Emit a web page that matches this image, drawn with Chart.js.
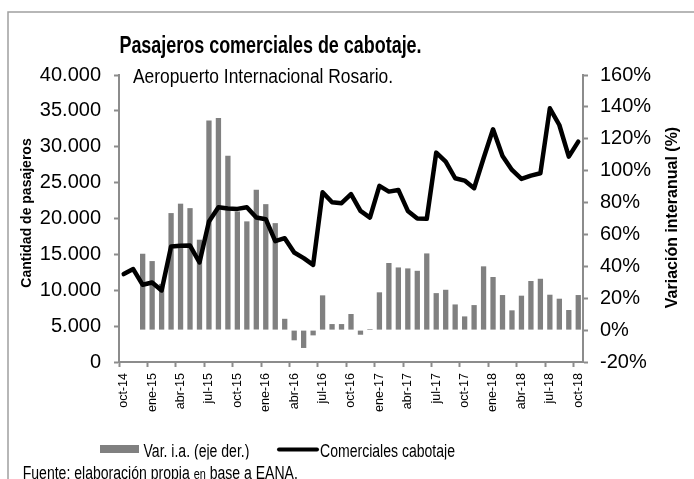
<!DOCTYPE html>
<html>
<head>
<meta charset="utf-8">
<script src="https://cdn.jsdelivr.net/npm/chart.js@4.4.1/dist/chart.umd.min.js"></script>
<style>
  body { margin: 0; background: #fff; }
  canvas { display: block; }
</style>
</head>
<body>
<canvas id="grafico" width="694" height="479"></canvas>
<script>
// meses oct-14 .. oct-18
const meses = ['oct-14', 'nov-14', 'dic-14',
    'ene-15', 'feb-15', 'mar-15', 'abr-15', 'may-15', 'jun-15', 'jul-15', 'ago-15', 'sep-15', 'oct-15', 'nov-15', 'dic-15',
    'ene-16', 'feb-16', 'mar-16', 'abr-16', 'may-16', 'jun-16', 'jul-16', 'ago-16', 'sep-16', 'oct-16', 'nov-16', 'dic-16',
    'ene-17', 'feb-17', 'mar-17', 'abr-17', 'may-17', 'jun-17', 'jul-17', 'ago-17', 'sep-17', 'oct-17', 'nov-17', 'dic-17',
    'ene-18', 'feb-18', 'mar-18', 'abr-18', 'may-18', 'jun-18', 'jul-18', 'ago-18', 'sep-18', 'oct-18'
];

// Comerciales cabotaje (eje izq.)
const pasajeros = [12250, 12950, 10760, 11080, 9970, 16090, 16190, 16230, 13870, 19570, 21580, 21380,
    21340, 21580, 20130, 19900, 16850, 17260, 15260, 14480, 13540, 23660, 22270, 22130,
    23390, 21060, 20130, 24540, 23750, 23980, 21060, 20000, 19950, 29180, 27920, 25610,
    25280, 24220, 28400, 32430, 28720, 26770, 25520, 25980, 26310, 35360, 33030, 28620, 30710
];

// Var. i.a. en % (eje der.)
const variacion = [null, null, 47.9, 43.3, 29, 73.4, 79.3, 76.5, 56.7, 131.5, 133, 109.3,
    74.4, 68.2, 88, 79, 67.1, 7.1, -6.4, -11.2, -3.3, 21.8, 3.8, 3.8,
    10.1, -2.9, 0.7, 23.7, 42.1, 39.3, 38.7, 37.2, 48.1, 23.2, 25.3, 16.1,
    8.6, 15.7, 40, 33.3, 22, 12.4, 21.6, 30.8, 32.2, 22.2, 19.7, 12.6, 22
];

const gris = '#8c8c8c';
const fuente = "'Liberation Sans', Arial, sans-serif";

Chart.defaults.font.family = fuente;
Chart.defaults.color = '#000';

function puntos(v) {
    return String(v).replace(/\B(?=(\d{3})+(?!\d))/g, '.');
}

// texto algo comprimido en horizontal, como en el original
function texto(ctx, s, x, y, font, sx, align) {
    ctx.save();
    ctx.translate(x, y);
    ctx.scale(sx, 1);
    ctx.font = font;
    ctx.textAlign = align;
    ctx.textBaseline = 'alphabetic';
    ctx.fillText(s, 0, 0);
    ctx.restore();
}

const extras = {
    id: 'extras',
    afterDraw(chart) {
        const ctx = chart.ctx;
        ctx.save();
        ctx.fillStyle = '#000';

        // titulos
        texto(ctx, 'Pasajeros comerciales de cabotaje.', 270.5, 53, 'bold 23px ' + fuente, 0.78, 'center');
        texto(ctx, 'Aeropuerto Internacional Rosario.', 263, 83, '20px ' + fuente, 0.87, 'center');

        // titulos de ejes
        ctx.save();
        ctx.translate(27, 213);
        ctx.rotate(-Math.PI / 2);
        ctx.font = 'bold 14px ' + fuente;
        ctx.textAlign = 'center';
        ctx.textBaseline = 'middle';
        ctx.fillText('Cantidad de pasajeros', 0, 0);
        ctx.restore();

        ctx.save();
        ctx.translate(673, 217.5);
        ctx.rotate(-Math.PI / 2);
        ctx.font = 'bold 16px ' + fuente;
        ctx.textAlign = 'center';
        ctx.textBaseline = 'middle';
        ctx.fillText('Variación interanual (%)', 0, 0);
        ctx.restore();

        // leyenda
        ctx.fillStyle = '#808080';
        ctx.fillRect(100, 445, 39, 8);
        ctx.fillStyle = '#000';
        texto(ctx, 'Var. i.a. (eje der.)', 143.5, 457, '18px ' + fuente, 0.78, 'left');
        ctx.strokeStyle = '#000';
        ctx.lineWidth = 4;
        ctx.lineCap = 'round';
        ctx.beginPath();
        ctx.moveTo(279, 449.5);
        ctx.lineTo(317, 449.5);
        ctx.stroke();
        texto(ctx, 'Comerciales cabotaje', 320, 457, '18px ' + fuente, 0.78, 'left');

        // caja de la fuente (tapa los descendentes de la leyenda)
        ctx.fillStyle = '#fff';
        ctx.fillRect(10, 459.5, 690, 30);
        ctx.fillStyle = '#000';
        let x = 22.7;
        const partes = [['Fuente: elaboración propia ', 18], ['en', 14], [' base a EANA.', 18]];
        partes.forEach(p => {
            ctx.font = p[1] + 'px ' + fuente;
            texto(ctx, p[0], x, 479, p[1] + 'px ' + fuente, 0.78, 'left');
            x += ctx.measureText(p[0]).width * 0.78;
        });

        // marco
        ctx.strokeStyle = '#a0a0a0';
        ctx.lineWidth = 1.5;
        ctx.strokeRect(8, 12, 720, 520);
        ctx.restore();
    }
};

new Chart(document.getElementById('grafico').getContext('2d'), {
    type: 'bar',
    data: {
        labels: meses,
        datasets: [{
                type: 'line',
                label: 'Comerciales cabotaje',
                data: pasajeros,
                yAxisID: 'y',
                borderColor: '#000',
                backgroundColor: '#000',
                borderWidth: 4.5,
                pointRadius: 0,
                tension: 0,
                borderJoinStyle: 'round',
                borderCapStyle: 'round',
                order: 0
            },
            {
                type: 'bar',
                label: 'Var. i.a. (eje der.)',
                data: variacion,
                yAxisID: 'y1',
                backgroundColor: '#808080',
                barPercentage: 0.56,
                categoryPercentage: 1,
                order: 1
            }
        ]
    },
    options: {
        responsive: false,
        animation: false,
        devicePixelRatio: 1,
        layout: { padding: { top: 75, left: 0, right: 0, bottom: 0 } },
        plugins: {
            legend: { display: false },
            title: { display: false },
            tooltip: { enabled: false }
        },
        scales: {
            x: {
                offset: true,
                afterFit: s => { s.height = 117; },
                border: { color: gris, width: 2 },
                grid: {
                    offset: true,
                    drawOnChartArea: false,
                    tickLength: 5,
                    tickWidth: 2,
                    color: c => (c.index % 3 === 0 ? gris : 'rgba(0,0,0,0)')
                },
                ticks: {
                    autoSkip: false,
                    minRotation: 90,
                    maxRotation: 90,
                    padding: 6,
                    font: { size: 12.5 },
                    callback: (v, i) => (i % 3 === 0 ? meses[i] : '')
                }
            },
            y: {
                position: 'left',
                min: 0,
                max: 40000,
                afterFit: s => { s.width = 119; },
                border: { color: gris, width: 2 },
                grid: { drawOnChartArea: false, tickLength: 5, tickWidth: 2, color: gris },
                ticks: {
                    stepSize: 5000,
                    padding: 13,
                    font: { size: 20 },
                    callback: v => puntos(v)
                }
            },
            y1: {
                position: 'right',
                min: -20,
                max: 160,
                afterFit: s => { s.width = 111; },
                border: { color: gris, width: 2 },
                grid: { drawOnChartArea: false, tickLength: 5, tickWidth: 2, color: gris },
                ticks: {
                    stepSize: 20,
                    padding: 12,
                    font: { size: 20 },
                    callback: v => v + '%'
                }
            }
        }
    },
    plugins: [extras]
});
</script>
</body>
</html>
